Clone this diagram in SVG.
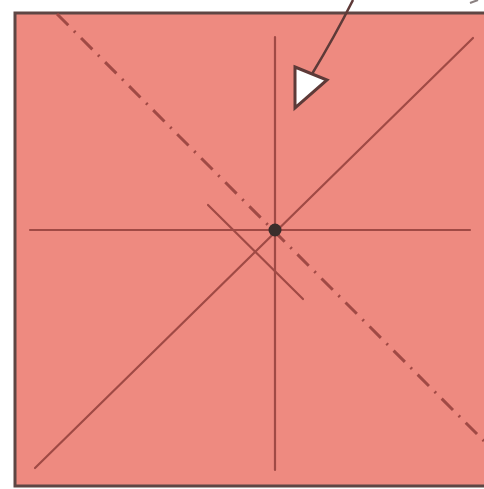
<svg xmlns="http://www.w3.org/2000/svg" width="484" height="489" viewBox="0 0 484 489">
<style>
.line{stroke:#a04a45;stroke-width:2.2;fill:none;stroke-linecap:round}
.dash{stroke:#a04a45;stroke-width:3;fill:none;stroke-dasharray:16 8 2 8}
</style>
<rect width="484" height="489" fill="#ffffff"/>
<g id="sheet">
<rect x="15" y="13" width="480" height="473" fill="#ee8a80" stroke="#5e4644" stroke-width="3"/>
</g>
<g id="connectors">
<line class="line" x1="275" y1="37" x2="275" y2="470"/>
<line class="line" x1="30" y1="230" x2="470" y2="230"/>
<line class="line" x1="35" y1="468" x2="473" y2="38"/>
<line class="line" x1="208" y1="205" x2="303" y2="299"/>
<line class="dash" x1="57" y1="14" x2="484" y2="441"/>
<path d="M353,0 Q335,36 312,74" stroke="#5e3a38" stroke-width="2.5" fill="none"/>
<line x1="470" y1="3" x2="478" y2="0" stroke="#8a8080" stroke-width="2"/>
</g>
<g id="arrowhead">
<polygon points="295,67 327,80 295,108" fill="#ffffff" stroke="#5e3a38" stroke-width="3" stroke-linejoin="miter"/>
</g>
<g id="center">
<circle cx="275" cy="230" r="6.5" fill="#3a2e2c"/>
</g>
</svg>
